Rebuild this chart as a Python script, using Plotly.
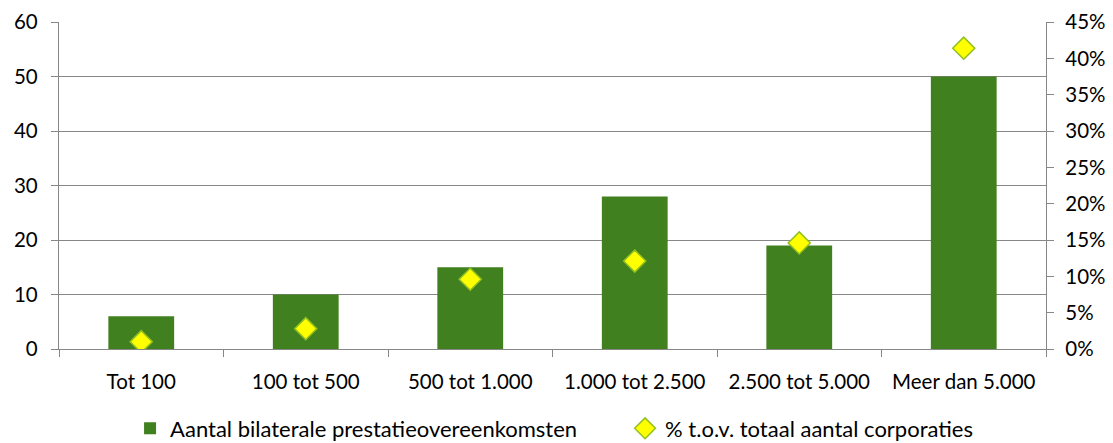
import plotly.graph_objects as go

categories = ["Tot 100", "100 tot 500", "500 tot 1.000", "1.000 tot 2.500", "2.500 tot 5.000", "Meer dan 5.000"]
aantal = [6, 10, 15, 28, 19, 50]
pct = [0.010, 0.028, 0.096, 0.121, 0.146, 0.414]

bar_name = "Aantal bilaterale prestatieovereenkomsten"
pct_name = "% t.o.v. totaal aantal corporaties"

fig = go.Figure()
fig.add_trace(go.Bar(x=categories, y=aantal, name=bar_name, marker=dict(color="#41801F", line=dict(width=0)), width=0.4))
fig.add_trace(go.Scatter(x=categories, y=pct, name=pct_name, yaxis="y2", mode="markers",
                         marker=dict(symbol="diamond", size=17, color="#FFFF00", line=dict(color="#92C01F", width=1.5))))

font = dict(family="Lato, Noto Sans, sans-serif", size=20.5, color="#000000")
axcol = "#878787"
fig.update_layout(
    width=1113, height=443,
    margin=dict(l=59, r=67, t=22, b=94, autoexpand=False),
    plot_bgcolor="white", paper_bgcolor="white",
    font=font,
    showlegend=True,
    legend=dict(orientation="h", x=0.072, xanchor="left", y=-0.243, yanchor="middle", entrywidth=450,
                font=dict(family="Lato, Noto Sans, sans-serif", size=22, color="#000000"),
                itemwidth=30, tracegroupgap=0),
    xaxis=dict(type="category", showline=True, linecolor=axcol, linewidth=1.3, ticks="outside", tickson="boundaries",
               ticklen=7, tickcolor=axcol, tickwidth=1.3, showgrid=False, tickfont=font, automargin=False,
               ticklabelstandoff=14),
    yaxis=dict(range=[0, 60], dtick=10, showline=True, linecolor=axcol, linewidth=1.3, ticks="outside", ticklen=7,
               tickcolor=axcol, tickwidth=1.3, showgrid=True, gridcolor=axcol, gridwidth=1.3, zeroline=False,
               tickfont=font, automargin=False, ticklabelstandoff=9),
    yaxis2=dict(range=[0, 0.45], dtick=0.05, tickformat=".0%", overlaying="y", side="right", showline=True,
                linecolor=axcol, linewidth=1.3, ticks="outside", ticklen=7, tickcolor=axcol, tickwidth=1.3,
                showgrid=False, zeroline=False, tickfont=font, automargin=False, ticklabelstandoff=7),
)
fig.write_html("out.html", config={"displayModeBar": False},
               post_script="document.body.style.margin='0';document.body.style.overflow='hidden';")
